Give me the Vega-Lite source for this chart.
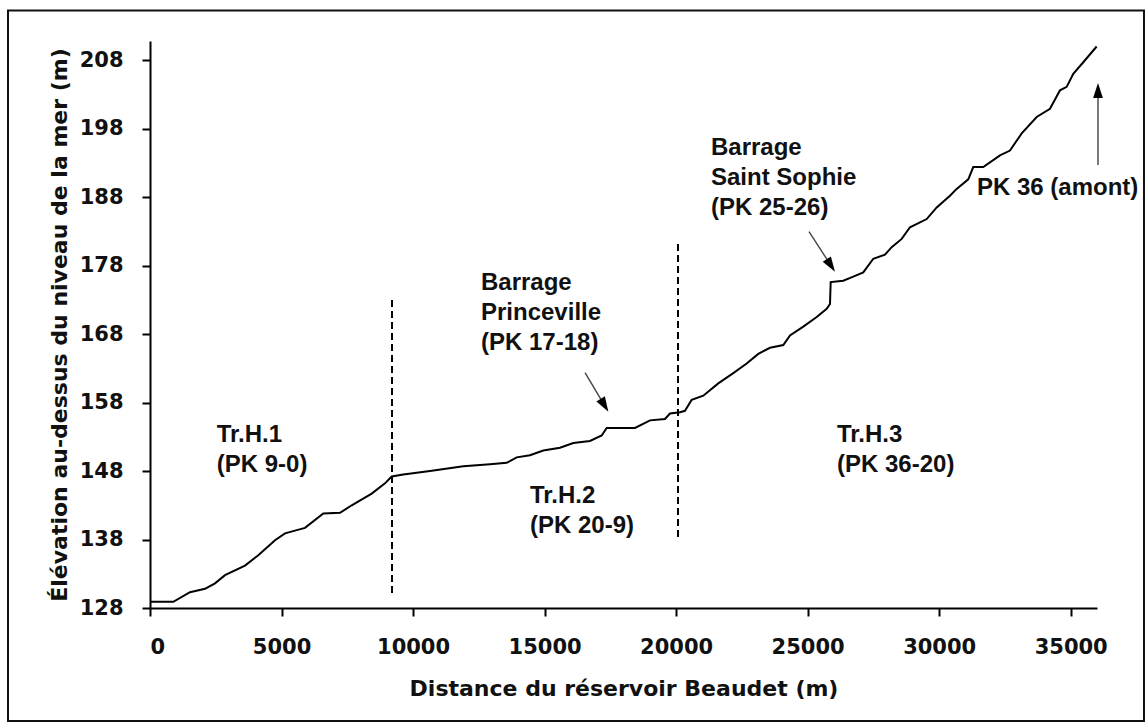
{
  "$schema": "https://vega.github.io/schema/vega-lite/v6.json",
  "width": 947,
  "height": 567,
  "autosize": {"type": "none"},
  "padding": {"left": 150, "top": 41, "right": 50, "bottom": 119},
  "background": "white",
  "config": {
    "view": {"stroke": null},
    "axis": {
      "grid": false,
      "labelFont": "DejaVu Sans",
      "labelFontSize": 21,
      "labelFontWeight": "bold",
      "labelColor": "#111111",
      "titleFont": "DejaVu Sans",
      "titleFontSize": 22,
      "titleFontWeight": "bold",
      "titleColor": "#111111",
      "domainColor": "#000000",
      "domainWidth": 2,
      "tickColor": "#000000",
      "tickWidth": 2,
      "tickSize": 8
    }
  },
  "datasets": {
    "profile": [
      {"distance": 0, "elevation": 128.9},
      {"distance": 886, "elevation": 128.9},
      {"distance": 1521, "elevation": 130.3},
      {"distance": 2091, "elevation": 130.8},
      {"distance": 2471, "elevation": 131.6},
      {"distance": 2851, "elevation": 132.8},
      {"distance": 3611, "elevation": 134.2},
      {"distance": 4117, "elevation": 135.7},
      {"distance": 4752, "elevation": 137.9},
      {"distance": 5132, "elevation": 138.9},
      {"distance": 5512, "elevation": 139.3},
      {"distance": 5892, "elevation": 139.7},
      {"distance": 6588, "elevation": 141.8},
      {"distance": 7223, "elevation": 141.9},
      {"distance": 7668, "elevation": 143.0},
      {"distance": 8428, "elevation": 144.7},
      {"distance": 8933, "elevation": 146.2},
      {"distance": 9188, "elevation": 147.2},
      {"distance": 9629, "elevation": 147.5},
      {"distance": 10644, "elevation": 148.0},
      {"distance": 11910, "elevation": 148.7},
      {"distance": 12925, "elevation": 149.0},
      {"distance": 13560, "elevation": 149.2},
      {"distance": 13940, "elevation": 150.0},
      {"distance": 14445, "elevation": 150.3},
      {"distance": 14951, "elevation": 151.0},
      {"distance": 15586, "elevation": 151.4},
      {"distance": 16091, "elevation": 152.1},
      {"distance": 16726, "elevation": 152.4},
      {"distance": 17171, "elevation": 153.2},
      {"distance": 17361, "elevation": 154.3},
      {"distance": 18437, "elevation": 154.3},
      {"distance": 19007, "elevation": 155.4},
      {"distance": 19577, "elevation": 155.6},
      {"distance": 19767, "elevation": 156.4},
      {"distance": 20147, "elevation": 156.6},
      {"distance": 20337, "elevation": 156.8},
      {"distance": 20592, "elevation": 158.4},
      {"distance": 21033, "elevation": 159.0},
      {"distance": 21603, "elevation": 160.8},
      {"distance": 22174, "elevation": 162.3},
      {"distance": 22683, "elevation": 163.7},
      {"distance": 23124, "elevation": 165.1},
      {"distance": 23569, "elevation": 166.0},
      {"distance": 24075, "elevation": 166.4},
      {"distance": 24329, "elevation": 167.8},
      {"distance": 24835, "elevation": 169.1},
      {"distance": 25344, "elevation": 170.5},
      {"distance": 25724, "elevation": 171.7},
      {"distance": 25850, "elevation": 172.4},
      {"distance": 25876, "elevation": 175.6},
      {"distance": 26355, "elevation": 175.8},
      {"distance": 26735, "elevation": 176.4},
      {"distance": 27115, "elevation": 177.0},
      {"distance": 27495, "elevation": 179.0},
      {"distance": 27940, "elevation": 179.6},
      {"distance": 28195, "elevation": 180.7},
      {"distance": 28575, "elevation": 181.9},
      {"distance": 28891, "elevation": 183.6},
      {"distance": 29526, "elevation": 184.8},
      {"distance": 29906, "elevation": 186.5},
      {"distance": 30411, "elevation": 188.2},
      {"distance": 30665, "elevation": 189.2},
      {"distance": 31106, "elevation": 190.6},
      {"distance": 31296, "elevation": 192.4},
      {"distance": 31676, "elevation": 192.4},
      {"distance": 32312, "elevation": 194.1},
      {"distance": 32692, "elevation": 194.8},
      {"distance": 33137, "elevation": 197.3},
      {"distance": 33707, "elevation": 199.7},
      {"distance": 34213, "elevation": 200.9},
      {"distance": 34593, "elevation": 203.6},
      {"distance": 34847, "elevation": 204.1},
      {"distance": 35098, "elevation": 206.0},
      {"distance": 35478, "elevation": 207.7},
      {"distance": 35987, "elevation": 210.0}
    ],
    "limits": [
      {"d": 9200, "top": 172.98, "bottom": 130.04},
      {"d": 20072, "top": 181.15, "bottom": 138.37}
    ],
    "arrows": [
      {"name": "Princeville", "xs": 16537, "ys": 162.36, "xe": 17278, "ye": 157.6, "dir": 149},
      {"name": "Sophie", "xs": 25052, "ys": 182.95, "xe": 25884, "ye": 178.03, "dir": 147},
      {"name": "amont", "xs": 36038, "ys": 192.69, "xe": 36038, "ye": 203.57, "dir": 0}
    ],
    "notes": [
      {"xd": 2536, "ye": 152.28, "label": "Tr.H.1\n(PK 9-0)"},
      {"xd": 14446, "ye": 143.33, "label": "Tr.H.2\n(PK 20-9)"},
      {"xd": 12583, "ye": 174.44, "label": "Barrage\nPrinceville\n(PK 17-18)"},
      {"xd": 21326, "ye": 194.15, "label": "Barrage\nSaint Sophie\n(PK 25-26)"},
      {"xd": 26116, "ye": 152.3, "label": "Tr.H.3\n(PK 36-20)"},
      {"xd": 31438, "ye": 188.31, "label": "PK 36 (amont)"}
    ],
    "frame": [
      {"x0": -5398, "x1": 37786, "y0": 111.5, "y1": 215.25}
    ]
  },
  "layer": [
    {
      "data": {"name": "profile"},
      "mark": {"type": "line", "color": "#000000", "strokeWidth": 2, "interpolate": "linear"},
      "encoding": {
        "x": {
          "field": "distance",
          "type": "quantitative",
          "title": "Distance du réservoir Beaudet (m)",
          "scale": {"domain": [0, 36000], "nice": false, "zero": false},
          "axis": {
            "values": [0, 5000, 10000, 15000, 20000, 25000, 30000, 35000],
            "format": "d",
            "labelPadding": 20,
            "titlePadding": 21
          }
        },
        "y": {
          "field": "elevation",
          "type": "quantitative",
          "title": "Élévation au-dessus du niveau de la mer (m)",
          "scale": {"domain": [128, 210.8], "nice": false, "zero": false},
          "axis": {
            "values": [128, 138, 148, 158, 168, 178, 188, 198, 208],
            "format": "d",
            "labelPadding": 19,
            "titlePadding": 8
          }
        }
      }
    },
    {
      "data": {"name": "frame"},
      "mark": {"type": "rect", "fillOpacity": 0, "stroke": "#111111", "strokeWidth": 2, "clip": false},
      "encoding": {
        "x": {"field": "x0", "type": "quantitative", "title": "Distance du réservoir Beaudet (m)"},
        "x2": {"field": "x1"},
        "y": {"field": "y0", "type": "quantitative", "title": "Élévation au-dessus du niveau de la mer (m)"},
        "y2": {"field": "y1"}
      }
    },
    {
      "data": {"name": "limits"},
      "mark": {"type": "rule", "color": "#000000", "strokeWidth": 2, "strokeDash": [7, 4]},
      "encoding": {
        "x": {"field": "d", "type": "quantitative", "title": "Distance du réservoir Beaudet (m)"},
        "y": {"field": "top", "type": "quantitative", "title": "Élévation au-dessus du niveau de la mer (m)"},
        "y2": {"field": "bottom"}
      }
    },
    {
      "data": {"name": "arrows"},
      "mark": {"type": "rule", "color": "#444444", "strokeWidth": 1.4, "clip": false},
      "encoding": {
        "x": {"field": "xs", "type": "quantitative", "title": "Distance du réservoir Beaudet (m)"},
        "y": {"field": "ys", "type": "quantitative", "title": "Élévation au-dessus du niveau de la mer (m)"},
        "x2": {"field": "xe"},
        "y2": {"field": "ye"}
      }
    },
    {
      "data": {"name": "arrows"},
      "mark": {"type": "point", "shape": "M0,-1L0.65,1L-0.65,1Z", "size": 225, "filled": true, "color": "#000000", "opacity": 1, "clip": false},
      "encoding": {
        "x": {"field": "xe", "type": "quantitative", "title": "Distance du réservoir Beaudet (m)"},
        "y": {"field": "ye", "type": "quantitative", "title": "Élévation au-dessus du niveau de la mer (m)"},
        "angle": {"field": "dir", "type": "quantitative", "scale": null}
      }
    },
    {
      "data": {"name": "notes"},
      "mark": {"type": "text", "align": "left", "baseline": "alphabetic", "font": "Liberation Sans", "fontWeight": "bold", "fontSize": 24, "lineHeight": 30, "lineBreak": "\n", "color": "#111111", "clip": false},
      "encoding": {
        "x": {"field": "xd", "type": "quantitative", "title": "Distance du réservoir Beaudet (m)"},
        "y": {"field": "ye", "type": "quantitative", "title": "Élévation au-dessus du niveau de la mer (m)"},
        "text": {"field": "label"}
      }
    }
  ]
}
